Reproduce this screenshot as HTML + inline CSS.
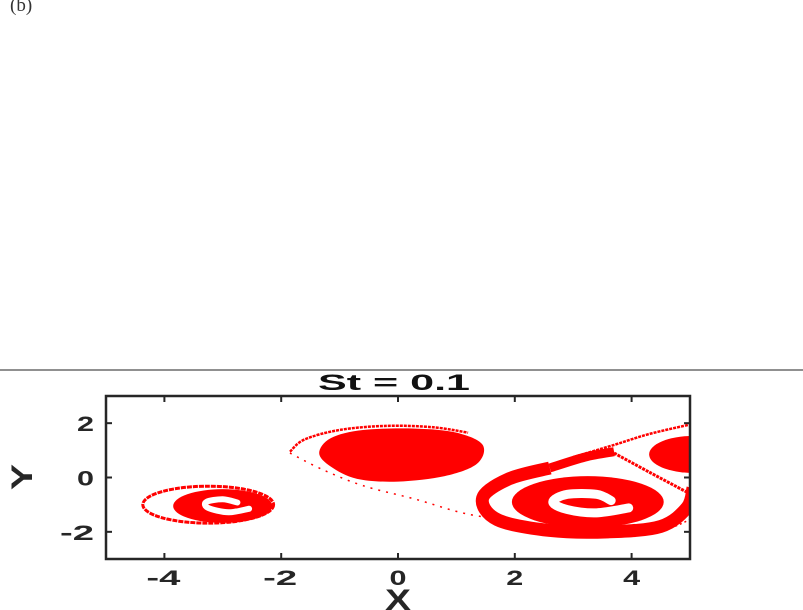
<!DOCTYPE html>
<html><head><meta charset="utf-8"><style>
body{margin:0;background:#fff;}
svg{display:block;font-family:"Liberation Sans",Arial,sans-serif;}
</style></head><body>
<svg width="803" height="610" viewBox="0 0 803 610" id="fig">
<text x="10" y="11" font-family="Liberation Serif,serif" font-size="19" fill="#333">(b)</text>
<line x1="0" y1="370" x2="803" y2="370" stroke="#222" stroke-width="1"/>
<text x="318" y="390" textLength="152" lengthAdjust="spacingAndGlyphs" font-size="22" font-weight="bold" fill="#111">St = 0.1</text>
<defs><clipPath id="pc"><rect x="106" y="396" width="584" height="163"/></clipPath></defs>
<g id="marks" clip-path="url(#pc)"></g>
<g id="axes"></g>
<text x="385" y="610" textLength="26" lengthAdjust="spacingAndGlyphs" font-size="30" font-weight="bold" fill="#262626">X</text>
<text transform="translate(32,490) rotate(-90)" textLength="26" lengthAdjust="spacingAndGlyphs" font-size="30" font-weight="bold" fill="#262626">Y</text>
</svg>
<script>
const xTicks=[-4,-2,0,2,4];
const yTicks=[-2,0,2];
const xTickLabels=["-4","-2","0","2","4"];
const yTickLabels=["-2","0","2"];
const centralBlob=[[-1.35,0.9],[-1.15,1.45],[-0.6,1.75],[0.3,1.8],[1.0,1.65],[1.45,1.2],[1.35,0.5],[0.8,0.05],[0.0,-0.15],[-0.7,-0.05],[-1.15,0.4]];
const centralArc=[[-1.85,0.95],[-1.6,1.4],[-1.0,1.75],[-0.2,1.9],[0.6,1.85],[1.2,1.65]];
const centralTail=[[-1.85,0.9],[-1.3,0.3],[-0.6,-0.3],[0.3,-0.8],[1.2,-1.35],[2.2,-1.65]];
const leftBlob=[[-3.0,-1.05,0.85,0.62]];
const leftRing=[[-3.25,-1.0,1.12,0.68]];
const leftHole=[[-2.55,-1.15],[-2.9,-1.28],[-3.25,-1.12],[-3.28,-0.9],[-3.0,-0.8],[-2.75,-0.92]];
const rightBlob=[[3.25,-0.9,1.3,0.95]];
const rightHole=[[3.95,-1.12],[3.4,-1.3],[2.9,-1.18],[2.65,-0.9],[2.9,-0.62],[3.4,-0.62],[3.65,-0.85]];
const rightBand=[[2.6,0.35],[1.9,-0.05],[1.45,-0.75],[1.7,-1.55],[2.6,-1.95],[3.6,-2.0],[4.5,-1.8],[4.95,-1.1],[5.05,-0.4]];
const upperBand=[[2.6,0.35],[3.2,0.75],[3.7,0.95]];
const upperArc=[[3.0,0.75],[3.7,1.2],[4.3,1.6],[5.0,1.95]];
const branchArc=[[3.7,0.9],[4.3,0.2],[5.0,-0.6]];
const bottomArc=[[1.7,-1.75],[2.5,-2.1],[3.5,-2.18],[4.5,-1.95],[5.0,-1.55]];
const edgeBlob=[[5.05,0.85,0.75,0.68]];

const X0=-5,X1=5,Y0=-3,Y1=3,L=106,R=690,T=396,B=559;
const sx=x=>L+(x-X0)/(X1-X0)*(R-L);
const sy=y=>B-(y-Y0)/(Y1-Y0)*(B-T);
const NS="http://www.w3.org/2000/svg";
const marks=document.getElementById('marks'),axes=document.getElementById('axes');
function mk(tag,attrs,parent,name){const e=document.createElementNS(NS,tag);for(const k in attrs)e.setAttribute(k,attrs[k]);parent.appendChild(e);


return e;}
function smooth(pts,close){
  const P=pts.map(p=>[sx(p[0]),sy(p[1])]);const n=P.length;let d='M'+P[0][0]+','+P[0][1];
  const g=i=>close?P[(i+n)%n]:P[Math.max(0,Math.min(n-1,i))];
  const m=close?n:n-1;
  for(let i=0;i<m;i++){const p0=g(i-1),p1=g(i),p2=g(i+1),p3=g(i+2);
    d+='C'+(p1[0]+(p2[0]-p0[0])/6)+','+(p1[1]+(p2[1]-p0[1])/6)+' '+(p2[0]-(p3[0]-p1[0])/6)+','+(p2[1]-(p3[1]-p1[1])/6)+' '+p2[0]+','+p2[1];}
  return d+(close?'Z':'');}
function ell(e,attrs,name){return mk('ellipse',Object.assign({cx:sx(e[0]),cy:sy(e[1]),rx:e[2]*(R-L)/(X1-X0),ry:e[3]*(B-T)/(Y1-Y0)},attrs),marks,name);}
const red='#ff0000';
mk('path',{d:smooth(rightBand,false),fill:'none',stroke:red,'stroke-width':13},marks,'right-vortex-outer-band');
mk('path',{d:smooth(upperBand,false),fill:'none',stroke:red,'stroke-width':9},marks,'right-vortex-upper-band');
mk('path',{d:smooth(upperArc,false),fill:'none',stroke:red,'stroke-width':2.5,'stroke-dasharray':'3 1'},marks,'upper-arc');
mk('path',{d:smooth(branchArc,false),fill:'none',stroke:red,'stroke-width':3,'stroke-dasharray':'3 1'},marks,'branch-arc');
mk('path',{d:smooth(bottomArc,false),fill:'none',stroke:red,'stroke-width':1.5,'stroke-dasharray':'2 3'},marks,'bottom-arc');
ell(rightBlob[0],{fill:red},'right-vortex-core');
mk('path',{d:smooth(rightHole,false),fill:'none',stroke:'#fff','stroke-width':9,'stroke-linecap':'round'},marks,'right-vortex-spiral-gap');
ell(edgeBlob[0],{fill:red},'edge-vortex');
mk('path',{d:smooth(centralBlob,true),fill:red},marks,'central-vortex-core');
mk('path',{d:smooth(centralArc,false),fill:'none',stroke:red,'stroke-width':2.5,'stroke-dasharray':'3 1'},marks,'central-vortex-arc');
mk('path',{d:smooth(centralTail,false),fill:'none',stroke:red,'stroke-width':1.5,'stroke-dasharray':'2 6'},marks,'central-vortex-tail');
ell(leftRing[0],{fill:'none',stroke:red,'stroke-width':3,'stroke-dasharray':'5 1'},'left-vortex-ring');
ell(leftBlob[0],{fill:red},'left-vortex-core');
mk('path',{d:smooth(leftHole,false),fill:'none',stroke:'#fff','stroke-width':6,'stroke-linecap':'round'},marks,'left-vortex-spiral-gap');

mk('rect',{x:L,y:T,width:R-L,height:B-T,fill:'none',stroke:'#262626','stroke-width':2.5},axes,'plot-frame');
xTicks.forEach((t,i)=>{const x=sx(t);
  mk('line',{x1:x,y1:B,x2:x,y2:B-6,stroke:'#262626','stroke-width':2},axes,'x-tick');
  mk('line',{x1:x,y1:T,x2:x,y2:T+6,stroke:'#262626','stroke-width':2},axes,'x-tick-top');
  const w=xTickLabels[i].length>1?34:17;
  const tx=mk('text',{x:x-w/2+(xTickLabels[i].length>1?-1:0),y:585,textLength:w,lengthAdjust:'spacingAndGlyphs','font-size':21,'font-weight':'bold',fill:'#262626'},axes,'x-tick-label');tx.textContent=xTickLabels[i];});
yTicks.forEach((t,i)=>{const y=sy(t);
  mk('line',{x1:L,y1:y,x2:L+6,y2:y,stroke:'#262626','stroke-width':2},axes,'y-tick');
  mk('line',{x1:R,y1:y,x2:R-6,y2:y,stroke:'#262626','stroke-width':2},axes,'y-tick-right');
  const w=yTickLabels[i].length>1?34:17;
  const tx=mk('text',{x:94-w,y:y+8,textLength:w,lengthAdjust:'spacingAndGlyphs','font-size':21,'font-weight':'bold',fill:'#262626'},axes,'y-tick-label');tx.textContent=yTickLabels[i];});
</script>
</body></html>
